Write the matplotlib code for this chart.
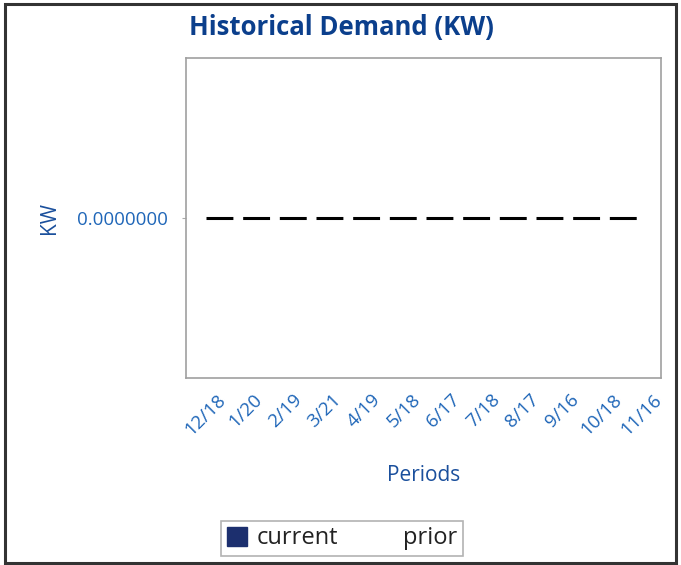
import matplotlib.pyplot as plt
import matplotlib.patches as mpatches
from matplotlib.lines import Line2D
import numpy as np

periods = ["12/18", "1/20", "2/19", "3/21", "4/19", "5/18",
           "6/17", "7/18", "8/17", "9/16", "10/18", "11/16"]
current = [0, 0, 0, 0, 0, 0, 0, 0, 0, 0, 0, 0]
prior = [0, 0, 0, 0, 0, 0, 0, 0, 0, 0, 0, 0]

title_col = "#0b3f8c"
label_col = "#1a4f9c"
tick_col = "#1f66b8"
bar_col = "#1c2f6e"

plt.rcParams["font.family"] = ["Open Sans", "DejaVu Sans"]

fig = plt.figure(figsize=(6.81, 5.65), dpi=100)
ax = fig.add_axes([0.273, 0.331, 0.698, 0.566])

x = np.arange(len(periods))
ax.bar(x, current, width=0.6, color=bar_col)
ax.plot(x, prior, color="black", linewidth=2.2, dashes=(8.8, 3.2))

ax.set_xlim(-0.5, len(periods) - 0.5)
ax.set_ylim(-1, 1)
ax.set_yticks([0])
ax.set_yticklabels(["%.7f" % 0])
ax.set_xticks(x)
ax.set_xticklabels(periods, rotation=45, ha="center")
ax.tick_params(axis="x", length=0, pad=9, labelsize=13.5, labelcolor=tick_col)
ax.tick_params(axis="y", length=3, color="#aaaaaa", pad=10, labelsize=13.5, labelcolor=tick_col)
for s in ax.spines.values():
    s.set_color("#a0a0a0")
    s.set_linewidth(1.2)

ax.set_xlabel("Periods", fontsize=15, color=label_col, labelpad=19)
ax.set_ylabel("KW", fontsize=15, color=label_col, labelpad=12)
fig.text(0.502, 0.952, "Historical Demand (KW)", ha="center", va="center",
         fontsize=18.5, fontweight="bold", color=title_col)

handles = [mpatches.Patch(color=bar_col, label="current"),
           Line2D([], [], color="none", label="prior")]
leg = fig.legend(handles=handles, loc="center", bbox_to_anchor=(0.502, 0.047),
                 ncol=2, frameon=True, fancybox=False, fontsize=17,
                 handlelength=0.85, handleheight=0.85, handletextpad=0.4,
                 columnspacing=1.5, borderpad=0.25, borderaxespad=0)
leg.get_frame().set_edgecolor("#a0a0a0")
leg.get_frame().set_linewidth(1.2)
for t in leg.get_texts():
    t.set_color("#222222")

fig.patches.append(mpatches.Rectangle((0.008, 0.004), 0.985, 0.989, transform=fig.transFigure,
                                      fill=False, edgecolor="#333333", linewidth=2.2))

fig.savefig("out.png", dpi=100)
